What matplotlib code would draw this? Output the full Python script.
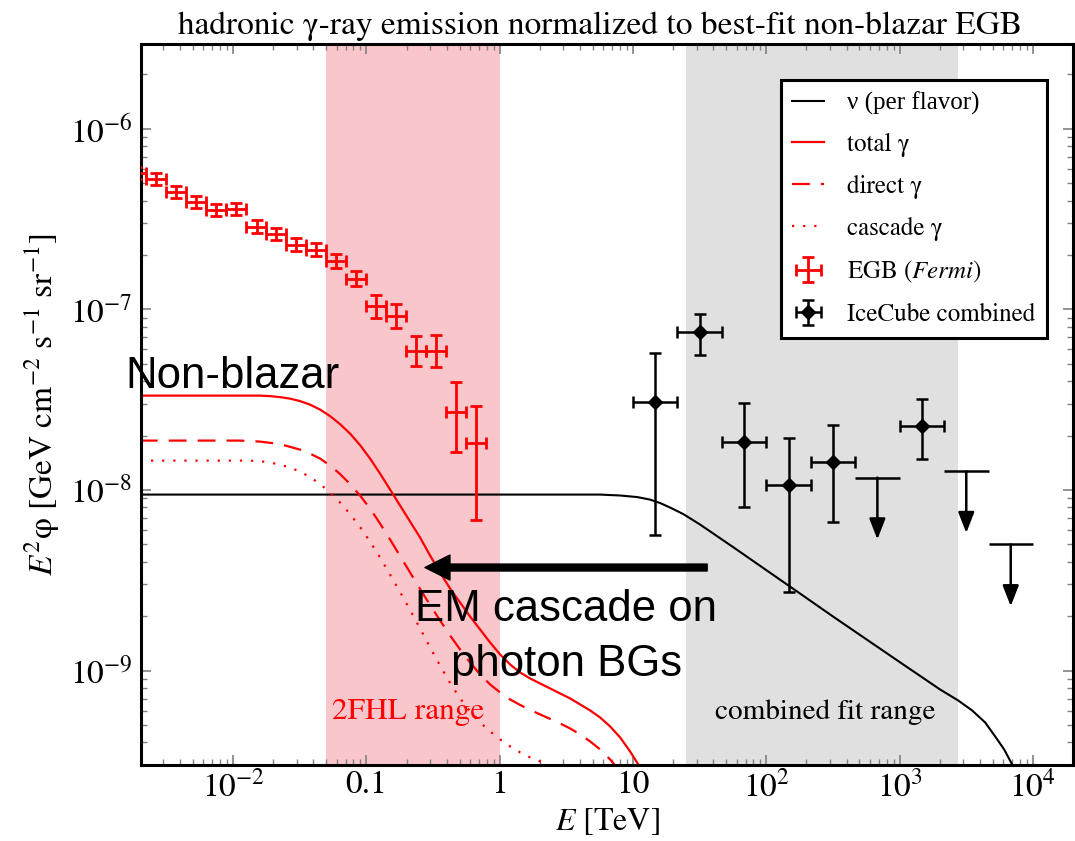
import numpy as np
import matplotlib
matplotlib.use('Agg')
import matplotlib.pyplot as plt
from matplotlib.ticker import FixedLocator, LogLocator, NullFormatter

plt.rcParams['font.family'] = ['STIXGeneral', 'DejaVu Serif']
plt.rcParams['mathtext.fontset'] = 'stix'

# Fermi EGB spectrum: bin centres, bin edges [TeV], E^2 flux [GeV cm^-2 s^-1 sr^-1]
egb_E = [1.88e-3, 2.66e-3, 3.76e-3, 5.31e-3, 7.50e-3, 1.06e-2, 1.50e-2, 2.11e-2, 2.99e-2,
         4.22e-2, 5.96e-2, 8.41e-2, 0.119, 0.168, 0.237, 0.335, 0.473, 0.668]
egb_edges = [1.585e-3, 2.239e-3, 3.162e-3, 4.467e-3, 6.310e-3, 8.913e-3, 1.259e-2, 1.778e-2,
             2.512e-2, 3.548e-2, 5.012e-2, 7.079e-2, 0.1, 0.1413, 0.1995, 0.2818, 0.3981,
             0.5623, 0.7943]
egb_flux = [5.71e-7, 5.28e-7, 4.48e-7, 3.94e-7, 3.56e-7, 3.61e-7, 2.87e-7, 2.62e-7, 2.28e-7,
            2.14e-7, 1.86e-7, 1.48e-7, 1.04e-7, 9.23e-8, 5.90e-8, 5.90e-8, 2.72e-8, 1.83e-8]
egb_err_lo = [4.2e-8, 3.9e-8, 3.3e-8, 2.9e-8, 2.6e-8, 2.6e-8, 2.3e-8, 2.1e-8, 1.8e-8,
              1.7e-8, 1.6e-8, 1.3e-8, 1.4e-8, 1.3e-8, 1.03e-8, 1.09e-8, 1.09e-8, 1.15e-8]
egb_err_hi = [4.5e-8, 4.2e-8, 3.5e-8, 3.1e-8, 2.8e-8, 2.8e-8, 2.5e-8, 2.2e-8, 2.0e-8,
              1.8e-8, 1.7e-8, 1.5e-8, 1.6e-8, 1.5e-8, 1.25e-8, 1.33e-8, 1.22e-8, 1.10e-8]

# IceCube combined analysis (per flavor), 1/3-decade bins
ic_E = [14.7, 31.6, 68.1, 146.8, 316.2, 1468.0]
ic_lo_edge = [10.0, 21.5, 46.4, 100.0, 215.4, 1000.0]
ic_hi_edge = [21.5, 46.4, 100.0, 215.4, 464.2, 2154.0]
ic_flux = [3.08e-8, 7.53e-8, 1.85e-8, 1.07e-8, 1.42e-8, 2.27e-8]
ic_low = [5.66e-9, 5.61e-8, 8.0e-9, 2.71e-9, 6.68e-9, 1.49e-8]
ic_high = [5.75e-8, 9.46e-8, 3.05e-8, 1.95e-8, 2.30e-8, 3.20e-8]

# IceCube upper limits
ul_E = [681.0, 3162.0, 6813.0]
ul_lo_edge = [464.2, 2154.0, 4642.0]
ul_hi_edge = [1000.0, 4642.0, 10000.0]
ul_flux = [1.17e-8, 1.27e-8, 4.99e-9]

# neutrino flux per flavor
nu_E = [2.0e-3, 1.0, 5.66, 8.0, 10.7, 13.4, 16.0, 19.0, 23.8, 31.9, 56.3, 101.0, 179.0,
        317.0, 1009.0, 2014.0, 2748.0, 3501.0, 4378.0, 5204.0, 6080.0, 6982.0, 7482.0]
nu_flux = [9.43e-9, 9.43e-9, 9.43e-9, 9.32e-9, 9.14e-9, 8.85e-9, 8.46e-9, 7.99e-9, 7.36e-9,
           6.43e-9, 4.83e-9, 3.58e-9, 2.67e-9, 1.99e-9, 1.11e-9, 7.85e-10, 6.83e-10,
           6.01e-10, 5.16e-10, 4.32e-10, 3.66e-10, 3.02e-10, 2.76e-10]

# gamma-ray model: shared energy grid for the attenuated part
g_E = [0.03182, 0.03782, 0.04495, 0.05342, 0.06349, 0.07546, 0.08968, 0.1066, 0.1267,
       0.1506, 0.1790, 0.2127, 0.2528, 0.3005, 0.3571, 0.4244, 0.5044, 0.5995, 0.7125,
       0.8472, 1.007, 1.197, 1.422, 1.690, 2.009, 2.388, 2.838, 3.374, 4.010, 4.765,
       5.665, 6.732, 8.001, 9.511, 11.30]

tot_E = [2.0e-3, 0.01594, 0.01895, 0.02253, 0.02677] + g_E
tot_flux = [3.330e-8, 3.330e-8, 3.309e-8, 3.267e-8, 3.205e-8,
            3.105e-8, 2.969e-8, 2.787e-8, 2.565e-8, 2.315e-8, 2.051e-8, 1.772e-8, 1.492e-8,
            1.232e-8, 1.005e-8, 8.196e-9, 6.685e-9, 5.452e-9, 4.335e-9, 3.490e-9, 2.847e-9,
            2.381e-9, 1.992e-9, 1.689e-9, 1.430e-9, 1.228e-9, 1.081e-9, 9.761e-10, 9.043e-10,
            8.483e-10, 7.960e-10, 7.468e-10, 7.009e-10, 6.493e-10, 6.014e-10, 5.500e-10,
            4.905e-10, 4.264e-10, 3.566e-10, 2.909e-10]

dir_E = [2.0e-3, 0.01128, 0.01594, 0.02253] + g_E[:33]
dir_flux = [1.877e-8, 1.877e-8, 1.853e-8, 1.795e-8,
            1.673e-8, 1.590e-8, 1.492e-8, 1.365e-8, 1.225e-8, 1.078e-8, 9.311e-9, 7.889e-9,
            6.517e-9, 5.315e-9, 4.307e-9, 3.490e-9, 2.829e-9, 2.307e-9, 1.894e-9, 1.564e-9,
            1.309e-9, 1.109e-9, 9.515e-10, 8.376e-10, 7.564e-10, 6.919e-10, 6.451e-10,
            6.053e-10, 5.716e-10, 5.398e-10, 5.097e-10, 4.781e-10, 4.429e-10, 4.052e-10,
            3.660e-10, 3.221e-10, 2.764e-10]

cas_E = [2.0e-3, 0.01341, 0.01594, 0.01895, 0.02253, 0.02677] + g_E[:27]
cas_flux = [1.454e-8, 1.454e-8, 1.445e-8, 1.418e-8, 1.382e-8, 1.330e-8,
            1.264e-8, 1.178e-8, 1.078e-8, 9.674e-9, 8.515e-9, 7.355e-9, 6.232e-9, 5.182e-9,
            4.225e-9, 3.402e-9, 2.723e-9, 2.164e-9, 1.710e-9, 1.342e-9, 1.067e-9, 8.537e-10,
            7.009e-10, 5.938e-10, 5.161e-10, 4.603e-10, 4.157e-10, 3.802e-10, 3.522e-10,
            3.305e-10, 3.141e-10, 2.965e-10, 2.764e-10]

red = '#ff0000'

fig = plt.figure(figsize=(10.75, 8.41), dpi=100)
ax = fig.add_axes([0.1312, 0.0904, 0.867, 0.8573])
ax.set_xscale('log')
ax.set_yscale('log')
ax.set_xlim(2.04e-3, 2.0e4)
ax.set_ylim(3.0e-10, 2.95e-6)

# energy ranges
ax.axvspan(0.05, 1.0, color='#f9c6cb', lw=0, zorder=0)
ax.axvspan(25.0, 2750.0, color='#e0e0e0', lw=0, zorder=0)

nu_line, = ax.plot(nu_E, nu_flux, color='black', lw=1.5, label='ν (per flavor)')
tot_line, = ax.plot(tot_E, tot_flux, color=red, lw=1.6, label='total γ')
dir_line, = ax.plot(dir_E, dir_flux, color=red, lw=1.6, ls=(0, (8, 5)), label='direct γ')
cas_line, = ax.plot(cas_E, cas_flux, color=red, lw=1.6, ls=(0, (1, 4)), label='cascade γ')

egb_xerr = [np.array(egb_E) - np.array(egb_edges[:-1]), np.array(egb_edges[1:]) - np.array(egb_E)]
egb = ax.errorbar(egb_E, egb_flux, xerr=egb_xerr, yerr=[egb_err_lo, egb_err_hi],
                  fmt='none', ecolor=red, elinewidth=2.0, capsize=4, capthick=2.0,
                  label=r'EGB ($\mathit{Fermi}$)', zorder=4)

ic_xerr = [np.array(ic_E) - np.array(ic_lo_edge), np.array(ic_hi_edge) - np.array(ic_E)]
ic_yerr = [np.array(ic_flux) - np.array(ic_low), np.array(ic_high) - np.array(ic_flux)]
ic = ax.errorbar(ic_E, ic_flux, xerr=ic_xerr, yerr=ic_yerr, fmt='D', color='black',
                 ms=7, elinewidth=1.8, capsize=4.5, capthick=1.8,
                 label='IceCube combined', zorder=5)

ul_xerr = [np.array(ul_E) - np.array(ul_lo_edge), np.array(ul_hi_edge) - np.array(ul_E)]
ax.errorbar(ul_E, ul_flux, xerr=ul_xerr, fmt='none', ecolor='black', elinewidth=1.8,
            capsize=0, zorder=5)
for e, f in zip(ul_E, ul_flux):
    ax.annotate('', xy=(e, f * 0.455), xytext=(e, f),
                arrowprops=dict(arrowstyle='-|>,head_length=0.9,head_width=0.35',
                                color='black', lw=1.8, shrinkA=0, shrinkB=0,
                                mutation_scale=14), zorder=5)

# cascade arrow and annotations
ax.annotate('', xy=(0.275, 3.72e-9), xytext=(36.0, 3.72e-9),
            arrowprops=dict(facecolor='black', edgecolor='black', width=5,
                            headwidth=18, headlength=18, shrink=0), zorder=9)
ax.text(1.55e-3, 3.69e-8, 'Non-blazar', family='Liberation Sans', fontsize=31.5,
        ha='left', va='baseline', zorder=10)
ax.text(3.15, 1.89e-9, 'EM cascade on', family='Liberation Sans', fontsize=31.5,
        ha='center', va='baseline', zorder=10)
ax.text(3.15, 9.27e-10, 'photon BGs', family='Liberation Sans', fontsize=31.5,
        ha='center', va='baseline', zorder=10)
ax.text(0.206, 5.36e-10, '2FHL range', color=red, fontsize=22.5, ha='center', va='baseline')
ax.text(276.0, 5.36e-10, 'combined fit range', color='black', fontsize=21,
        ha='center', va='baseline')

# axes styling
ax.xaxis.set_major_locator(FixedLocator([1e-2, 1e-1, 1, 10, 1e2, 1e3, 1e4]))
ax.set_xticklabels([r'$10^{-2}$', '0.1', '1', '10', r'$10^{2}$', r'$10^{3}$', r'$10^{4}$'])
ax.xaxis.set_minor_locator(LogLocator(base=10, subs=np.arange(2, 10), numticks=100))
ax.xaxis.set_minor_formatter(NullFormatter())
ax.yaxis.set_major_locator(FixedLocator([1e-9, 1e-8, 1e-7, 1e-6]))
ax.set_yticklabels([r'$10^{-9}$', r'$10^{-8}$', r'$10^{-7}$', r'$10^{-6}$'])
ax.yaxis.set_minor_locator(LogLocator(base=10, subs=np.arange(2, 10), numticks=100))
ax.yaxis.set_minor_formatter(NullFormatter())
ax.tick_params(which='both', direction='in', top=True, right=True, color='#808080')
ax.tick_params(which='major', length=7, width=1.2, labelsize=24)
ax.tick_params(which='minor', length=4, width=1.0)
ax.tick_params(axis='x', pad=4)
ax.tick_params(axis='y', pad=6)
for s in ax.spines.values():
    s.set_linewidth(2.2)

ax.set_xlabel(r'$E$ [TeV]', fontsize=23, labelpad=2)
ax.set_ylabel(r'$E^2$φ [GeV cm$^{-2}$ s$^{-1}$ sr$^{-1}$]', fontsize=24, labelpad=6)
ax.set_title('hadronic γ-ray emission normalized to best-fit non-blazar EGB',
             fontsize=24, pad=7, x=0.492)

leg = ax.legend(handles=[nu_line, tot_line, dir_line, cas_line, egb, ic],
                loc='upper right', bbox_to_anchor=(0.972, 0.950), borderaxespad=0,
                fontsize=18, frameon=True, fancybox=False, framealpha=1,
                edgecolor='black', handlelength=1.28, handletextpad=0.92,
                labelspacing=0.72, borderpad=0.45)
leg.get_frame().set_linewidth(2.2)
# upright nu in the neutrino entry
leg.get_texts()[0].set_family('Liberation Serif')

fig.savefig('out.png', dpi=100)
